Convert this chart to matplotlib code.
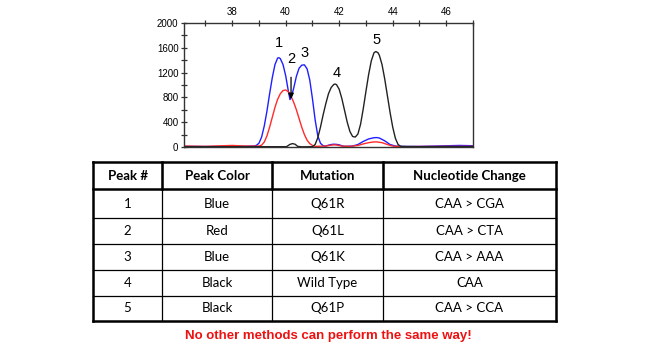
import numpy as np
import matplotlib.pyplot as plt
from matplotlib.ticker import MultipleLocator

# electropherogram traces (x = size/time units, y = signal)
blue_x = [36.2, 37.0, 38.0, 38.5, 38.8, 38.9, 39.0, 39.1, 39.2, 39.3, 39.4, 39.5, 39.6, 39.7,
          39.75, 39.8, 39.9, 40.0, 40.1, 40.16, 40.2, 40.3, 40.4, 40.5, 40.6, 40.7, 40.8, 40.9,
          41.0, 41.1, 41.2, 41.3, 41.4, 41.5, 41.6, 41.7, 41.8, 41.9, 42.0, 42.1, 42.2, 42.5,
          42.7, 42.9, 43.1, 43.3, 43.4, 43.5, 43.7, 43.9, 44.1, 44.5, 45.0, 45.5, 46.0, 46.5, 47.0]
blue_y = [10, 8, 10, 12, 15, 25, 60, 160, 340, 580, 860, 1120, 1330, 1435,
          1440, 1425, 1330, 1150, 900, 765, 790, 950, 1140, 1270, 1320, 1325, 1260, 1080,
          780, 440, 180, 60, 20, 15, 30, 40, 45, 42, 35, 20, 10, 15,
          40, 90, 130, 150, 152, 145, 100, 40, 15, 8, 10, 15, 20, 25, 20]

red_x = [36.2, 37.0, 38.0, 38.5, 39.0, 39.1, 39.2, 39.3, 39.4, 39.5, 39.6, 39.7, 39.8, 39.9,
         40.0, 40.1, 40.2, 40.3, 40.4, 40.5, 40.6, 40.7, 40.8, 40.9, 41.0, 41.1, 41.5, 41.7,
         41.8, 41.9, 42.1, 42.4, 42.7, 42.9, 43.1, 43.3, 43.4, 43.6, 43.8, 44.0, 44.3, 45.0,
         46.0, 47.0]
red_y = [15, 10, 25, 15, 15, 30, 80, 180, 320, 480, 640, 770, 860, 910,
         920, 890, 820, 720, 600, 460, 320, 200, 110, 55, 25, 10, 15, 30,
         35, 32, 15, 10, 25, 50, 70, 82, 82, 70, 40, 15, 5, 8,
         10, 10]

black_x = [36.2, 39.0, 40.0, 40.05, 40.15, 40.25, 40.35, 40.45, 40.6, 41.0, 41.1, 41.2, 41.3,
           41.4, 41.5, 41.6, 41.7, 41.8, 41.85, 41.9, 42.0, 42.1, 42.2, 42.3, 42.4, 42.5,
           42.6, 42.7, 42.8, 42.9, 43.0, 43.1, 43.2, 43.3, 43.37, 43.45, 43.5, 43.6, 43.7,
           43.8, 43.9, 44.0, 44.1, 44.2, 44.3, 45.0, 47.0]
black_y = [5, 5, 5, 10, 40, 55, 45, 10, 3, 5, 40, 150, 320,
           520, 700, 860, 960, 1010, 1015, 1005, 930, 780, 590, 400, 250, 170,
           160, 210, 370, 620, 900, 1170, 1390, 1520, 1540, 1520, 1480, 1330, 1100,
           830, 560, 320, 140, 40, 10, 5, 5]

peak_labels = ["1", "2", "3", "4", "5"]
label_x = [39.75, 40.2, 40.72, 41.92, 43.41]
label_y = [1680, 1420, 1515, 1190, 1725]

# table contents
headers = ["Peak #", "Peak Color", "Mutation", "Nucleotide Change"]
peak_num = ["1", "2", "3", "4", "5"]
peak_color = ["Blue", "Red", "Blue", "Black", "Black"]
mutation = ["Q61R", "Q61L", "Q61K", "Wild Type", "Q61P"]
nucleotide = ["CAA > CGA", "CAA > CTA", "CAA > AAA", "CAA", "CAA > CCA"]
footer = "No other methods can perform the same way!"

W, H = 650, 347
fig = plt.figure(figsize=(W / 100, H / 100), dpi=100)

# ---- trace plot ----
ax = fig.add_axes([184 / W, 1 - 147 / H, (473 - 184) / W, (147 - 23) / H])
ax.plot(blue_x, blue_y, color="#1f1fff", lw=1.0)
ax.plot(red_x, red_y, color="#ff2a2a", lw=1.0)
ax.plot(black_x, black_y, color="#222222", lw=1.0)
for lab, lx, ly in zip(peak_labels, label_x, label_y):
    ax.text(lx, ly, lab, ha="center", va="center", fontsize=10.5, family="Liberation Sans")
ax.annotate("", xy=(40.2, 730), xytext=(40.2, 1170),
            arrowprops=dict(arrowstyle="-|>", color="black", lw=0.9, mutation_scale=8))

ax.set_xlim(36.2, 47.0)
ax.set_ylim(0, 2000)
ax.xaxis.tick_top()
ax.xaxis.set_major_locator(MultipleLocator(2))
ax.xaxis.set_minor_locator(MultipleLocator(1))
ax.yaxis.set_major_locator(MultipleLocator(400))
ax.yaxis.set_minor_locator(MultipleLocator(200))
ax.set_xticks([38, 40, 42, 44, 46])
for spine in ax.spines.values():
    spine.set_color("#333333")
    spine.set_linewidth(1.0)
ax.tick_params(which="both", direction="inout", color="#333333", width=0.9,
               labelsize=7, pad=1.5)
ax.tick_params(which="major", length=5)
ax.tick_params(which="minor", length=5)
for t in ax.get_xticklabels() + ax.get_yticklabels():
    t.set_family("Liberation Sans")

# ---- table, drawn in pixel coordinates ----
tab = fig.add_axes([0, 0, 1, 1])
tab.set_xlim(0, W)
tab.set_ylim(H, 0)
tab.axis("off")

col_edges = [93, 162, 272, 383, 556]
row_edges = [162, 189, 218, 244, 270, 296, 321]
thick, thin = 1.8, 0.9

tab.plot([col_edges[0], col_edges[-1]], [row_edges[0]] * 2, color="black", lw=thick)
tab.plot([col_edges[0], col_edges[-1]], [row_edges[1]] * 2, color="black", lw=thick)
tab.plot([col_edges[0], col_edges[-1]], [row_edges[-1]] * 2, color="black", lw=thick)
for ry in row_edges[2:-1]:
    tab.plot([col_edges[0], col_edges[-1]], [ry, ry], color="black", lw=thin)
for i, cx in enumerate(col_edges):
    lw = thick if i in (0, len(col_edges) - 1) else thin
    tab.plot([cx, cx], [row_edges[0], row_edges[-1]], color="black", lw=lw)
    if 0 < i < len(col_edges) - 1:
        tab.plot([cx, cx], [row_edges[0], row_edges[1]], color="black", lw=thick)

centers_x = [(a + b) / 2 for a, b in zip(col_edges[:-1], col_edges[1:])]
hy = (row_edges[0] + row_edges[1]) / 2
for cx, h in zip(centers_x, headers):
    tab.text(cx, hy, h, ha="center", va="center", fontsize=9.5, fontweight="bold",
             family="Lato")
columns = [peak_num, peak_color, mutation, nucleotide]
for r in range(len(peak_num)):
    cy = (row_edges[r + 1] + row_edges[r + 2]) / 2
    for cx, col in zip(centers_x, columns):
        tab.text(cx, cy, col[r], ha="center", va="center", fontsize=9.5, family="Lato")

tab.text(328, 336, footer, ha="center", va="center", fontsize=9.5, fontweight="bold",
         color="#ee1111", family="Liberation Sans")

fig.savefig("out.png", dpi=100)
